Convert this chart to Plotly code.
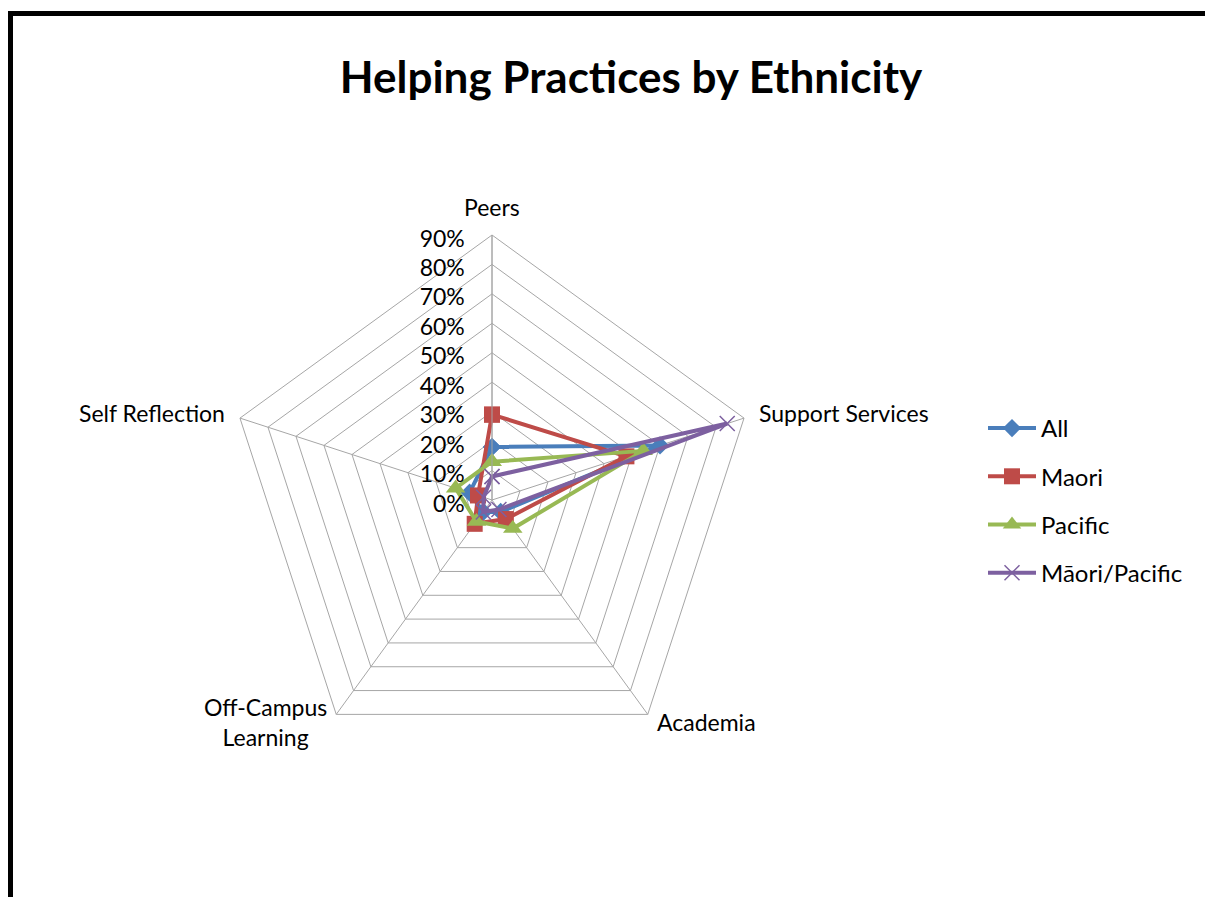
import math
import plotly.graph_objects as go

categories = ["Peers", "Support Services", "Academia", "Off-Campus<br>Learning", "Self Reflection"]
all_vals = [0.18, 0.60, 0.05, 0.05, 0.08]
maori_vals = [0.29, 0.48, 0.08, 0.10, 0.05]
pacific_vals = [0.13, 0.54, 0.12, 0.09, 0.13]
mp_vals = [0.08, 0.84, 0.04, 0.05, 0.03]
radial_ticks = [0, 0.1, 0.2, 0.3, 0.4, 0.5, 0.6, 0.7, 0.8, 0.9]

W, H = 1205, 897
FONT = "Lato, Calibri, Noto Sans, sans-serif"

series = [
    ("All", all_vals, "#4A7EBB", dict(symbol="diamond", size=14)),
    ("Maori", maori_vals, "#BE4B48", dict(symbol="square", size=16)),
    ("Pacific", pacific_vals, "#98B954", dict(symbol="triangle-up", size=17)),
    ("Māori/Pacific", mp_vals, "#7D60A0", dict(symbol="x-thin", size=15)),
]

fig = go.Figure()
for i, (name, vals, color, mk) in enumerate(series):
    marker = dict(color=color, **mk)
    if mk["symbol"] == "x-thin":
        marker["line"] = dict(color=color, width=1.5)
    fig.add_trace(go.Scatterpolar(
        r=vals + vals[:1],
        theta=categories + categories[:1],
        mode="lines+markers",
        name=name,
        legendgroup=f"g{i}",
        line=dict(color=color, width=4),
        marker=marker,
    ))

cx, cy, R = 492, 500, 265

# category labels placed just outside each polygon vertex (label style like the source)
label_style = [
    # (dx, dy, xanchor, yanchor)
    (0, -28, "center", "middle"),
    (13, -5, "left", "middle"),
    (7, 8, "left", "middle"),
    (-7, 8, "right", "middle"),
    (-13, -5, "right", "middle"),
]
annotations = []
n = len(categories)
for k, cat in enumerate(categories):
    ang = math.radians(90 - 360 * k / n)
    vx = cx + R * math.cos(ang)
    vy = cy - R * math.sin(ang)
    dx, dy, xa, ya = label_style[k]
    annotations.append(dict(
        text=cat, xref="paper", yref="paper",
        x=(vx + dx) / W, y=1 - (vy + dy) / H,
        xanchor=xa, yanchor=ya, align="center", showarrow=False,
        font=dict(size=23, family=FONT, color="black"),
    ))

fig.update_layout(
    width=W, height=H,
    margin=dict(l=0, r=0, t=0, b=0),
    paper_bgcolor="white",
    font=dict(family=FONT, size=23, color="black"),
    title=dict(text="<b>Helping Practices by Ethnicity</b>", x=631 / W, xanchor="center",
               y=1 - 78 / H, yanchor="middle", font=dict(size=44, family=FONT)),
    polar=dict(
        domain=dict(x=[(cx - R) / W, (cx + R) / W], y=[1 - (cy + R) / H, 1 - (cy - R) / H]),
        gridshape="linear",
        bgcolor="white",
        angularaxis=dict(rotation=90, direction="clockwise", showline=True,
                         linecolor="#A6A6A6", gridcolor="#A6A6A6",
                         ticks="", showticklabels=False),
        radialaxis=dict(range=[0, 0.9], tickvals=radial_ticks, tickformat=".0%",
                        angle=90, side="counterclockwise", showline=True,
                        linecolor="#A6A6A6", gridcolor="#A6A6A6",
                        ticks="outside", ticklen=6, tickcolor="rgba(0,0,0,0)",
                        tickfont=dict(size=23, family=FONT)),
    ),
    legend=dict(x=983 / W, y=1 - 406 / H, xanchor="left", yanchor="top",
                font=dict(size=24, family=FONT), tracegroupgap=14, itemwidth=48,
                bgcolor="rgba(0,0,0,0)"),
    annotations=annotations,
    shapes=[dict(type="rect", xref="paper", yref="paper",
                 x0=10.5 / W, y0=1 - 13.5 / H, x1=1.05, y1=-0.05,
                 line=dict(color="black", width=5))],
)

fig.write_html("out.html")
